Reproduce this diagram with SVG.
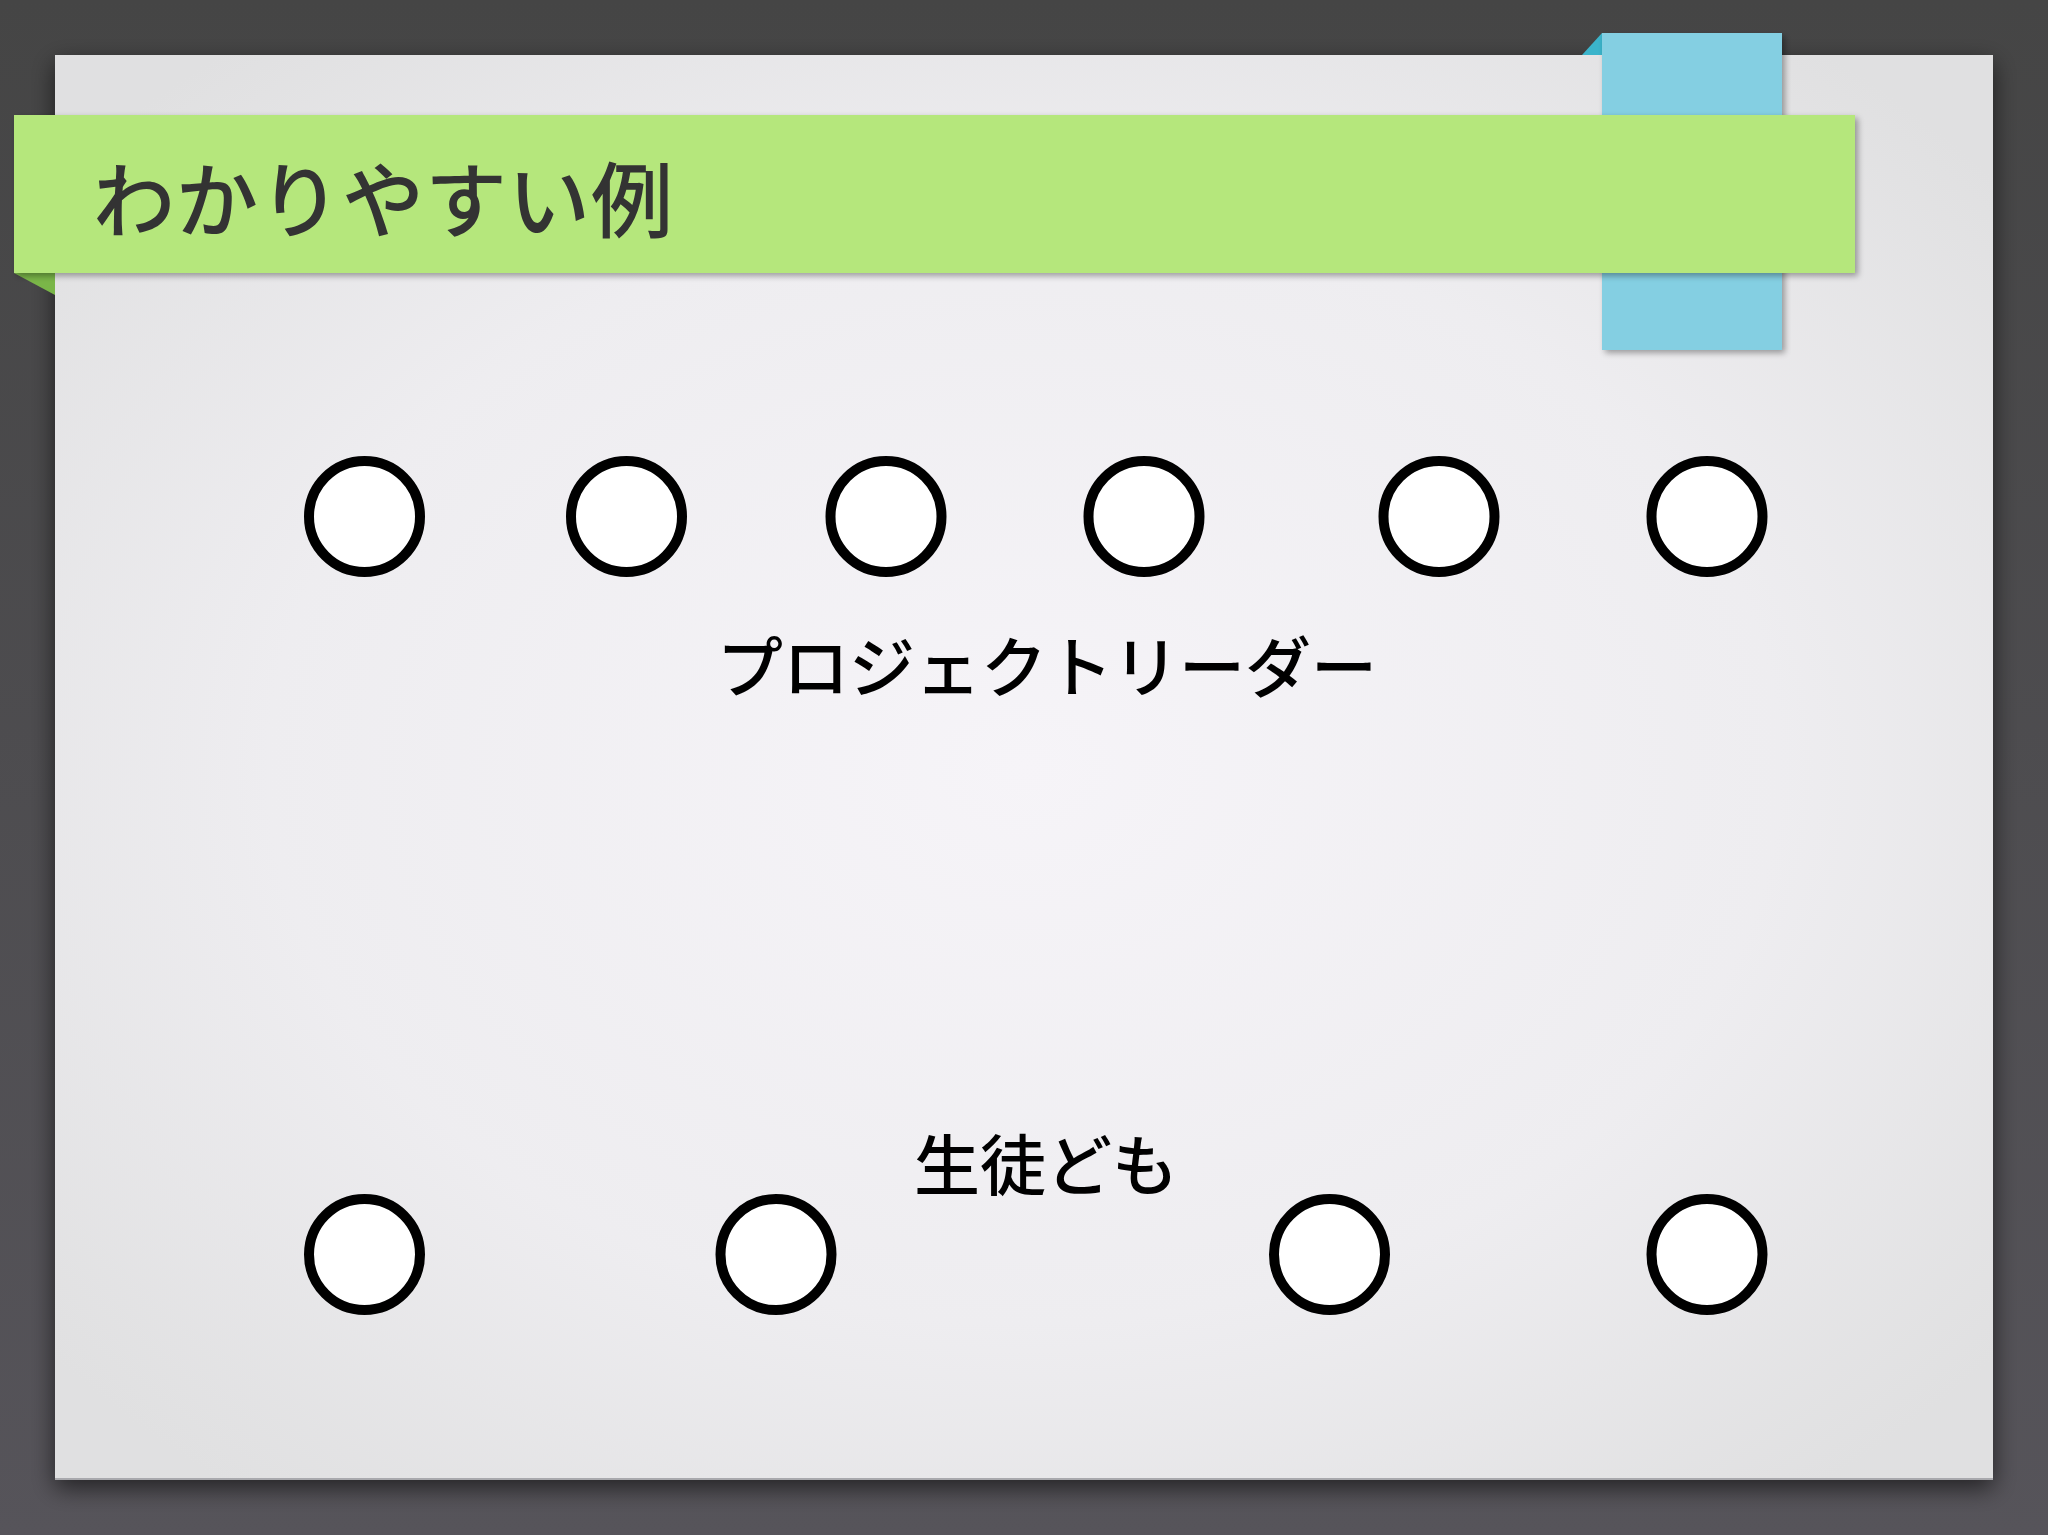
<svg xmlns="http://www.w3.org/2000/svg" width="2048" height="1535" viewBox="0 0 2048 1535">
  <defs>
    <linearGradient id="bg" x1="0" y1="0" x2="0" y2="1">
      <stop offset="0" stop-color="#454545"/>
      <stop offset="1" stop-color="#56545a"/>
    </linearGradient>
    <radialGradient id="page" cx="0.5" cy="0.5" r="0.65">
      <stop offset="0" stop-color="#f6f4f8"/>
      <stop offset="0.6" stop-color="#eeedf0"/>
      <stop offset="1" stop-color="#e0e0e1"/>
    </radialGradient>
    <filter id="shadow" x="-10%" y="-10%" width="120%" height="125%">
      <feGaussianBlur in="SourceAlpha" stdDeviation="12"/>
      <feOffset dx="0" dy="8"/>
      <feComponentTransfer><feFuncA type="linear" slope="0.6"/></feComponentTransfer>
      <feMerge><feMergeNode/><feMergeNode in="SourceGraphic"/></feMerge>
    </filter>
    <filter id="small" x="-5%" y="-10%" width="110%" height="130%">
      <feGaussianBlur in="SourceAlpha" stdDeviation="3"/>
      <feOffset dx="3" dy="3"/>
      <feComponentTransfer><feFuncA type="linear" slope="0.35"/></feComponentTransfer>
      <feMerge><feMergeNode/><feMergeNode in="SourceGraphic"/></feMerge>
    </filter>
  </defs>
  <style>
    .node circle { fill: #ffffff; stroke: #000000; stroke-width: 10; }
    .label { font-family: "Noto Sans CJK JP", "Noto Sans", sans-serif; fill: #000000; font-size: 66px; font-weight: 500; }
    .title { font-family: "Noto Sans CJK JP", "Noto Sans", sans-serif; fill: #333333; font-size: 82px; font-weight: 500; }
  </style>

  <rect x="0" y="0" width="2048" height="1535" fill="url(#bg)"/>
  <rect x="55" y="55" width="1938" height="1425" fill="url(#page)" filter="url(#shadow)"/>
  <line x1="55" y1="1479" x2="1993" y2="1479" stroke="#a9a9ad" stroke-width="2"/>

  <!-- blue tab -->
  <polygon points="1582,55 1602,33 1602,55" fill="#3bb4cb"/>
  <rect x="1602" y="33" width="180" height="317" fill="#84cfe2" filter="url(#small)"/>

  <!-- green banner -->
  <polygon points="14,273 55,273 55,295" fill="#7ab648"/>
  <rect x="14" y="115" width="1841" height="158" fill="#b5e77b" filter="url(#small)"/>
  <text class="title" x="93" y="231" letter-spacing="1">わかりやすい例</text>

  <g id="connectors"></g>

  <g id="leader-1" class="node"><circle cx="364.5" cy="516.5" r="55.5"/></g>
  <g id="leader-2" class="node"><circle cx="626.5" cy="516.5" r="55.5"/></g>
  <g id="leader-3" class="node"><circle cx="886" cy="516.5" r="55.5"/></g>
  <g id="leader-4" class="node"><circle cx="1144" cy="516.5" r="55.5"/></g>
  <g id="leader-5" class="node"><circle cx="1439" cy="516.5" r="55.5"/></g>
  <g id="leader-6" class="node"><circle cx="1707" cy="516.5" r="55.5"/></g>

  <g id="label-leader"><text class="label" x="1047" y="692" text-anchor="middle">プロジェクトリーダー</text></g>
  <g id="label-students"><text class="label" x="1046" y="1190" text-anchor="middle">生徒ども</text></g>

  <g id="student-1" class="node"><circle cx="364.5" cy="1254.5" r="55.5"/></g>
  <g id="student-2" class="node"><circle cx="776" cy="1254.5" r="55.5"/></g>
  <g id="student-3" class="node"><circle cx="1329.5" cy="1254.5" r="55.5"/></g>
  <g id="student-4" class="node"><circle cx="1707" cy="1254.5" r="55.5"/></g>
</svg>
